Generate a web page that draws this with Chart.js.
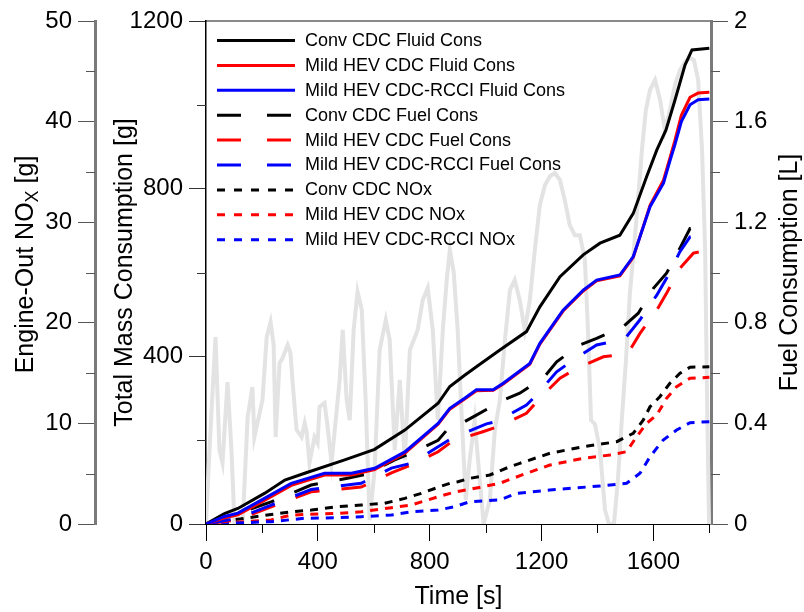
<!DOCTYPE html>
<html><head><meta charset="utf-8">
<script src="https://cdn.jsdelivr.net/npm/chart.js@4.4.0/dist/chart.umd.min.js"></script>
<style>html,body{margin:0;padding:0;background:#fff;}#wrap{width:804px;height:612px;}</style>
</head><body><div id="wrap"><canvas id="c" width="804" height="612"></canvas></div>
<script>
// ---- data (time in s) ----
const convFluidT = [0,66,114,209,282,353,496,603,711,830,872,925,967,1051,1146,1194,1266,1349,1409,1480,1528,1576,1612,1645,1677,1713,1738,1800];
const convFluid  = [0,25,37,73,105,121,153,178,224,288,328,355,375,415,459,518,590,642,670,689,741,829,892,940,1011,1095,1131,1135];
const hevFluidT  = [0,66,114,209,305,424,520,603,711,830,872,925,967,1027,1063,1158,1194,1277,1349,1397,1480,1528,1564,1588,1636,1660,1677,1700,1731,1760,1800];
const hevFluid   = [0,15,22,56,92,117,117,130,169,238,274,298,318,319,334,381,429,508,556,580,592,636,710,760,820,875,915,975,1018,1028,1030];
const rcciFluid  = [0,18,26,61,97,121,121,133,172,240,276,300,320,320,336,383,431,510,558,582,594,638,709,757,813,868,905,960,1000,1012,1014];

const convFuelT = [0,114,233,376,506,576,675,735,830,872,925,967,1063,1122,1206,1254,1337,1397,1492,1546,1600,1647,1695,1731,1800];
const convFuel  = [0,0.042,0.088,0.155,0.182,0.198,0.255,0.282,0.333,0.387,0.407,0.433,0.493,0.52,0.58,0.645,0.712,0.738,0.785,0.838,0.937,0.997,1.097,1.175,1.182];
const hevFuelT  = [0,114,233,376,555,663,735,830,872,919,990,1051,1146,1194,1266,1325,1421,1480,1516,1552,1612,1647,1695,1743,1800];
const hevFuel   = [0,0.017,0.068,0.128,0.147,0.203,0.235,0.287,0.322,0.342,0.367,0.39,0.44,0.5,0.58,0.618,0.665,0.672,0.692,0.758,0.85,0.917,1.017,1.077,1.09];
const rcciFuelT = [0,114,233,376,555,663,735,830,878,1003,1039,1146,1182,1254,1313,1397,1469,1504,1552,1612,1647,1695,1731,1800];
const rcciFuel  = [0,0.023,0.075,0.137,0.162,0.222,0.242,0.307,0.34,0.398,0.407,0.473,0.513,0.605,0.652,0.712,0.728,0.745,0.812,0.91,0.977,1.083,1.142,1.153];

const convNoxT = [0,138,305,377,472,556,639,711,770,830,872,901,943,1015,1087,1122,1230,1349,1469,1528,1564,1588,1623,1659,1695,1731,1800];
const convNox  = [0,0.57,1.22,1.39,1.72,1.89,2.06,2.55,3.05,3.65,4.05,4.2,4.54,4.87,5.7,6.03,7.03,7.68,8.18,9.02,10.34,11.66,12.65,13.99,14.98,15.58,15.64];
const hevNoxT  = [0,233,305,472,556,663,735,830,890,943,1051,1146,1230,1349,1445,1504,1540,1576,1612,1647,1683,1731,1800];
const hevNox   = [0,0.4,0.89,1.06,1.22,1.62,1.89,2.71,3.18,3.45,4.05,5.04,5.86,6.53,6.86,7.19,8.68,10.01,10.83,12.49,13.65,14.48,14.58];
const rcciNoxT = [0,233,353,472,556,663,735,830,890,943,1051,1111,1230,1409,1504,1552,1588,1635,1683,1731,1800];
const rcciNox  = [0,0.23,0.57,0.63,0.73,0.89,1.22,1.39,1.72,2.22,2.39,3.05,3.38,3.78,4.05,5.04,6.69,8.35,9.34,10.07,10.17];

// background drive-cycle trace (vehicle speed, km/h, no axis shown)
const speedT = [0,9,20,34,48,59,77,91,102,131,149,166,173,184,202,217,231,242,249,263,274,292,302,310,324,342,353,360,370,388,399,406,424,435,449,464,478,489,503,514,528,542,557,571,585,603,621,643,657,675,693,711,729,757,775,793,811,829,847,861,872,886,900,915,929,943,961,979,993,1015,1033,1051,1069,1087,1104,1122,1140,1158,1176,1194,1212,1230,1248,1266,1283,1301,1319,1337,1355,1366,1377,1391,1409,1427,1441,1459,1473,1487,1502,1516,1530,1545,1559,1573,1588,1606,1624,1641,1659,1677,1695,1713,1731,1745,1760,1774,1785,1792,1799,1806];
const speed  = [0,15,31.7,52,20.6,17,39.5,20.6,0,0,29.8,38.1,24.2,28.1,34.5,52,56.2,49.8,24.2,44.8,46.2,49.8,47.6,39.2,26.2,24.2,28.1,25.6,17,24.2,22.5,32.6,33.7,27,17,28.9,40.1,54,34.5,28.9,54,64.6,59.6,34.5,1.1,15,48.4,56.8,51.2,20.6,40.1,17.8,48.4,54,62.3,65.7,54,28.9,54,68,76.3,70,54,28.9,6.7,17.8,28.9,12.2,0,6.7,26.2,34.5,51.2,65.1,67.9,62.3,54,62.3,76.3,88.8,94.3,96.8,97.7,95.7,90.2,83.2,80.4,80.4,73.5,54,28.9,27.8,20.6,3.9,0,0,12.2,28.9,45.6,64.3,76.3,90.2,104.1,115.2,120.8,123.6,118,109.6,115.2,122.2,126.3,128.6,129.7,129.1,123.6,104.1,76.3,34.5,0,0];

const timeTicks = [0,400,800,1200,1600];
const timeMinor = [200,600,1000,1400,1800];
const massTicks = [0,400,800,1200];
const massMinor = [200,600,1000];
const noxTicks = [0,10,20,30,40,50];
const noxMinor = [5,15,25,35,45];
const fuelTicks = [0,0.4,0.8,1.2,1.6,2];
const fuelMinor = [0.2,0.6,1.0,1.4,1.8];

const xTitle = 'Time [s]';
const massTitle = 'Total Mass Consumption [g]';
const noxTitleParts = ['Engine-Out NO','X',' [g]'];
const fuelTitle = 'Fuel Consumption [L]';

const FONT = '"Liberation Sans", Arial, sans-serif';
const pts = (ts, vs) => ts.map((t, i) => ({x: t, y: vs[i]}));

const LONG = [25, 22], SHORT = [8, 7];
const datasets = [
  {label:'Conv CDC Fluid Cons', data:pts(convFluidT, convFluid), borderColor:'#000000', yAxisID:'y', order:3},
  {label:'Mild HEV CDC Fluid Cons', data:pts(hevFluidT, hevFluid), borderColor:'#ff0000', yAxisID:'y', order:2},
  {label:'Mild HEV CDC-RCCI Fluid Cons', data:pts(hevFluidT, rcciFluid), borderColor:'#0000ff', yAxisID:'y', order:1},
  {label:'Conv CDC Fuel Cons', data:pts(convFuelT, convFuel), borderColor:'#000000', borderDash:LONG, yAxisID:'yF', order:6},
  {label:'Mild HEV CDC Fuel Cons', data:pts(hevFuelT, hevFuel), borderColor:'#ff0000', borderDash:LONG, yAxisID:'yF', order:5},
  {label:'Mild HEV CDC-RCCI Fuel Cons', data:pts(rcciFuelT, rcciFuel), borderColor:'#0000ff', borderDash:LONG, yAxisID:'yF', order:4},
  {label:'Conv CDC NOx', data:pts(convNoxT, convNox), borderColor:'#000000', borderDash:SHORT, yAxisID:'yN', order:9},
  {label:'Mild HEV CDC NOx', data:pts(hevNoxT, hevNox), borderColor:'#ff0000', borderDash:SHORT, yAxisID:'yN', order:8},
  {label:'Mild HEV CDC-RCCI NOx', data:pts(rcciNoxT, rcciNox), borderColor:'#0000ff', borderDash:SHORT, yAxisID:'yN', order:7},
  {label:'', data:pts(speedT, speed), borderColor:'#e3e3e3', borderWidth:4, yAxisID:'yS', order:100, isBackground:true}
].map(d => Object.assign({borderWidth:3, pointRadius:0, tension:0, fill:false}, d));

const fmt = v => String(Math.round(v * 100) / 100);

const minorTickPlugin = {
  id: 'minorTicks',
  afterDraw(chart) {
    const ctx = chart.ctx;
    ctx.save();
    ctx.lineWidth = 1;
    const sx = chart.scales.x;
    ctx.strokeStyle = '#000';
    timeMinor.forEach(v => { const p = Math.round(sx.getPixelForValue(v)) + 0.5; ctx.beginPath(); ctx.moveTo(p, sx.top); ctx.lineTo(p, sx.top + 9); ctx.stroke(); });
    const sy = chart.scales.y;
    ctx.strokeStyle = '#333';
    massMinor.forEach(v => { const p = Math.round(sy.getPixelForValue(v)) + 0.5; ctx.beginPath(); ctx.moveTo(sy.right, p); ctx.lineTo(sy.right - 9, p); ctx.stroke(); });
    const sn = chart.scales.yN;
    ctx.strokeStyle = '#555';
    noxMinor.forEach(v => { const p = Math.round(sn.getPixelForValue(v)) + 0.5; ctx.beginPath(); ctx.moveTo(sn.right, p); ctx.lineTo(sn.right - 9, p); ctx.stroke(); });
    const sf = chart.scales.yF;
    fuelMinor.forEach(v => { const p = Math.round(sf.getPixelForValue(v)) + 0.5; ctx.beginPath(); ctx.moveTo(sf.left, p); ctx.lineTo(sf.left + 9, p); ctx.stroke(); });
    ctx.restore();
  }
};

const titlePlugin = {
  id: 'customTitles',
  afterDraw(chart) {
    const ctx = chart.ctx;
    const top = chart.chartArea.top, bottom = chart.chartArea.bottom;
    const cy = (top + bottom) / 2;
    ctx.save();
    ctx.fillStyle = '#000';
    ctx.textBaseline = 'middle';
    ctx.textAlign = 'left';
    const f = '25px ' + FONT, fs = '18px ' + FONT;
    // NOx title with subscript
    ctx.save();
    ctx.translate(26, cy - 8);
    ctx.rotate(-Math.PI / 2);
    ctx.font = f; const w1 = ctx.measureText(noxTitleParts[0]).width;
    ctx.font = fs; const w2 = ctx.measureText(noxTitleParts[1]).width;
    ctx.font = f; const w3 = ctx.measureText(noxTitleParts[2]).width;
    const x0 = -(w1 + w2 + w3) / 2;
    ctx.fillText(noxTitleParts[0], x0, 0);
    ctx.font = fs; ctx.fillText(noxTitleParts[1], x0 + w1, 7);
    ctx.font = f; ctx.fillText(noxTitleParts[2], x0 + w1 + w2, 0);
    ctx.restore();
    // Fuel title (reads bottom to top)
    ctx.save();
    ctx.translate(790, cy);
    ctx.rotate(-Math.PI / 2);
    ctx.font = f; ctx.textAlign = 'center';
    ctx.fillText(fuelTitle, 0, 0);
    ctx.restore();
    ctx.restore();
  }
};

const legendPlugin = {
  id: 'customLegend',
  afterDatasetsDraw(chart) {
    const ctx = chart.ctx;
    const x0 = chart.chartArea.left + 11, x1 = x0 + 78, tx = x0 + 88;
    let y = chart.chartArea.top + 19;
    ctx.save();
    ctx.font = '18px ' + FONT;
    ctx.textBaseline = 'middle';
    ctx.fillStyle = '#000';
    chart.data.datasets.forEach(ds => {
      if (ds.isBackground) return;
      ctx.save();
      ctx.strokeStyle = ds.borderColor;
      ctx.lineWidth = 3;
      const dash = ds.borderDash ? (ds.borderDash === LONG ? [24, 26] : [8, 9]) : [];
      ctx.setLineDash(dash);
      ctx.beginPath(); ctx.moveTo(x0, y + 0.5); ctx.lineTo(x1, y + 0.5); ctx.stroke();
      ctx.restore();
      ctx.fillText(ds.label, tx, y + 1);
      y += 24.9;
    });
    ctx.restore();
  }
};

const tickFont = {family: FONT, size: 24};

new Chart(document.getElementById('c'), {
  type: 'line',
  data: {datasets},
  plugins: [minorTickPlugin, titlePlugin, legendPlugin],
  options: {
    responsive: false,
    animation: false,
    devicePixelRatio: 1,
    layout: {padding: 0},
    plugins: {legend: {display: false}, tooltip: {enabled: false}},
    scales: {
      x: {
        type: 'linear', position: 'bottom', min: 0, max: 1806,
        afterBuildTicks: s => { s.ticks = timeTicks.map(v => ({value: v})); },
        afterFit: s => { s.height = 88; },
        ticks: {font: tickFont, color: '#000', padding: 7, maxRotation: 0, autoSkip: false, callback: fmt},
        grid: {drawOnChartArea: false, drawTicks: true, tickLength: 17, tickColor: '#000', tickWidth: 1},
        border: {color: '#000', width: 1},
        title: {display: true, text: xTitle, color: '#000', font: {family: FONT, size: 25}, padding: {top: 0, bottom: 0}}
      },
      xTop: {
        type: 'linear', position: 'top', min: 0, max: 1806,
        afterFit: s => { s.height = 21; },
        ticks: {display: false},
        grid: {drawOnChartArea: false, drawTicks: false},
        border: {color: '#8a8a8a', width: 2}
      },
      y: {
        type: 'linear', position: 'left', min: 0, max: 1200, weight: 0,
        afterBuildTicks: s => { s.ticks = massTicks.map(v => ({value: v})); },
        afterFit: s => { s.width = 111; },
        ticks: {font: tickFont, color: '#000', padding: 6, callback: fmt},
        grid: {drawOnChartArea: false, drawTicks: true, tickLength: 17, tickColor: '#333', tickWidth: 1},
        border: {color: '#000', width: 1.5},
        title: {display: true, text: massTitle, color: '#000', font: {family: FONT, size: 25}, padding: {top: 15, bottom: 0}}
      },
      yN: {
        type: 'linear', position: 'left', min: 0, max: 50, weight: 1,
        afterBuildTicks: s => { s.ticks = noxTicks.map(v => ({value: v})); },
        afterFit: s => { s.width = 95; },
        ticks: {font: tickFont, color: '#000', padding: 6, callback: fmt},
        grid: {drawOnChartArea: false, drawTicks: true, tickLength: 17, tickColor: '#555', tickWidth: 1},
        border: {color: '#7a7a7a', width: 3}
      },
      yF: {
        type: 'linear', position: 'right', min: 0, max: 2,
        afterBuildTicks: s => { s.ticks = fuelTicks.map(v => ({value: v})); },
        afterFit: s => { s.width = 93; },
        ticks: {font: tickFont, color: '#000', padding: 6, callback: fmt},
        grid: {drawOnChartArea: false, drawTicks: true, tickLength: 17, tickColor: '#555', tickWidth: 1},
        border: {color: '#7a7a7a', width: 3}
      },
      yS: {type: 'linear', display: false, min: 0, max: 140}
    }
  }
});
</script>
</body></html>
